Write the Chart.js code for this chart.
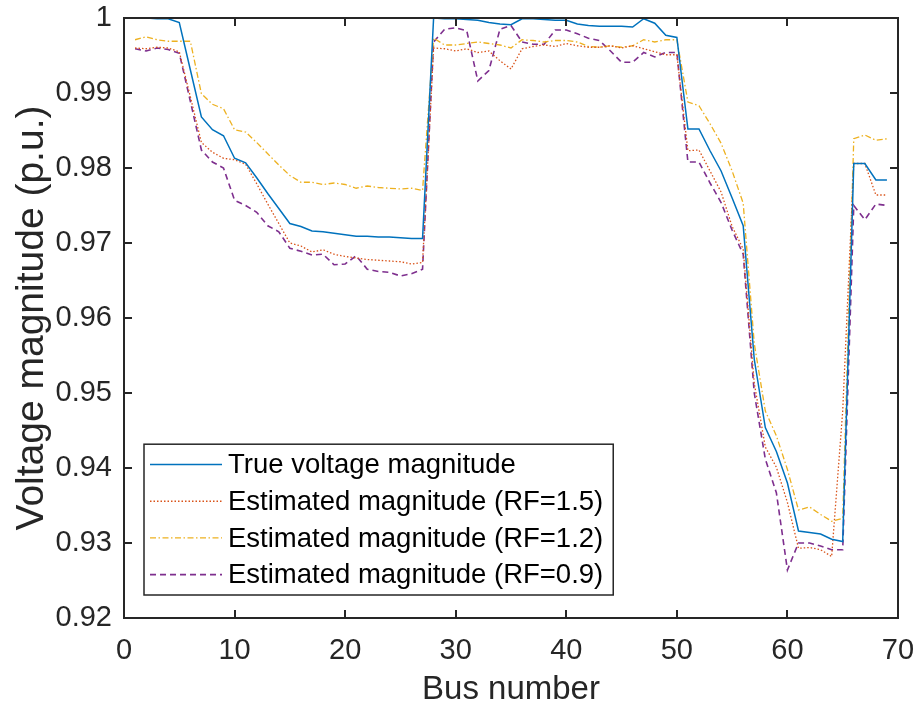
<!DOCTYPE html>
<html>
<head>
<meta charset="utf-8">
<script src="https://cdn.jsdelivr.net/npm/chart.js@4.4.1/dist/chart.umd.min.js"></script>
<style>
  html, body { margin: 0; padding: 0; background: #fff; }
  canvas { display: block; }
</style>
</head>
<body>
<canvas id="voltChart" width="920" height="713"></canvas>
<script>
// bus numbers 1..69
const busNumbers = [
  1, 2, 3, 4, 5, 6, 7, 8, 9, 10, 11, 12, 13, 14, 15, 16, 17, 18, 19, 20,
  21, 22, 23, 24, 25, 26, 27, 28, 29, 30, 31, 32, 33, 34, 35, 36, 37, 38, 39, 40,
  41, 42, 43, 44, 45, 46, 47, 48, 49, 50, 51, 52, 53, 54, 55, 56, 57, 58, 59, 60,
  61, 62, 63, 64, 65, 66, 67, 68, 69
];

const trueVoltage = [
  1.0000, 1.0000, 0.9999, 0.9999, 0.9994, 0.9931, 0.9868, 0.9851, 0.9843, 0.9813,
  0.9807, 0.9787, 0.9766, 0.9746, 0.9726, 0.9722, 0.9716, 0.9715, 0.9713, 0.9711,
  0.9709, 0.9709, 0.9708, 0.9708, 0.9707, 0.9706, 0.9706, 1.0000, 0.9999, 0.9999,
  0.9998, 0.9997, 0.9994, 0.9992, 0.9991, 0.9999, 0.9999, 0.9998, 0.9997, 0.9997,
  0.9992, 0.9990, 0.9989, 0.9989, 0.9989, 0.9988, 0.9999, 0.9993, 0.9977, 0.9974,
  0.9852, 0.9852, 0.9823, 0.9796, 0.9760, 0.9723, 0.9545, 0.9454, 0.9422, 0.9380,
  0.9316, 0.9314, 0.9312, 0.9305, 0.9302, 0.9806, 0.9806, 0.9784, 0.9784
];

const estRF15 = [
  0.9960, 0.9959, 0.9961, 0.9960, 0.9955, 0.9895, 0.9834, 0.9821, 0.9813, 0.9811,
  0.9805, 0.9779, 0.9752, 0.9726, 0.9700, 0.9696, 0.9688, 0.9691, 0.9685, 0.9682,
  0.9680, 0.9678, 0.9677, 0.9676, 0.9675, 0.9672, 0.9674, 0.9960, 0.9959, 0.9956,
  0.9959, 0.9954, 0.9956, 0.9943, 0.9932, 0.9959, 0.9962, 0.9964, 0.9962, 0.9966,
  0.9963, 0.9961, 0.9961, 0.9963, 0.9960, 0.9963, 0.9959, 0.9955, 0.9951, 0.9951,
  0.9823, 0.9824, 0.9796, 0.9768, 0.9722, 0.9692, 0.9513, 0.9428, 0.9401, 0.9354,
  0.9293, 0.9294, 0.9291, 0.9282, 0.9476, 0.9806, 0.9806, 0.9764, 0.9764
];

const estRF12 = [
  0.9971, 0.9975, 0.9971, 0.9969, 0.9969, 0.9969, 0.9899, 0.9885, 0.9879, 0.9851,
  0.9848, 0.9834, 0.9819, 0.9804, 0.9790, 0.9781, 0.9781, 0.9778, 0.9780, 0.9778,
  0.9773, 0.9776, 0.9774, 0.9773, 0.9772, 0.9773, 0.9770, 0.9973, 0.9964, 0.9964,
  0.9966, 0.9968, 0.9966, 0.9964, 0.9960, 0.9971, 0.9970, 0.9968, 0.9970, 0.9970,
  0.9968, 0.9962, 0.9961, 0.9963, 0.9961, 0.9963, 0.9971, 0.9968, 0.9971, 0.9971,
  0.9888, 0.9883, 0.9859, 0.9833, 0.9796, 0.9753, 0.9566, 0.9476, 0.9443, 0.9398,
  0.9344, 0.9348, 0.9338, 0.9329, 0.9333, 0.9839, 0.9844, 0.9837, 0.9839
];

const estRF09 = [
  0.9959, 0.9956, 0.9960, 0.9958, 0.9953, 0.9889, 0.9824, 0.9808, 0.9800, 0.9757,
  0.9750, 0.9741, 0.9723, 0.9715, 0.9693, 0.9689, 0.9684, 0.9685, 0.9671, 0.9672,
  0.9683, 0.9665, 0.9662, 0.9661, 0.9656, 0.9659, 0.9665, 0.9968, 0.9985, 0.9987,
  0.9983, 0.9916, 0.9930, 0.9985, 0.9990, 0.9968, 0.9965, 0.9965, 0.9984, 0.9984,
  0.9979, 0.9973, 0.9970, 0.9956, 0.9941, 0.9941, 0.9954, 0.9948, 0.9954, 0.9954,
  0.9808, 0.9808, 0.9780, 0.9754, 0.9717, 0.9685, 0.9500, 0.9412, 0.9367, 0.9264,
  0.9300, 0.9300, 0.9296, 0.9291, 0.9291, 0.9750, 0.9731, 0.9752, 0.9750
];

const seriesLabels = [
  'True voltage magnitude',
  'Estimated magnitude (RF=1.5)',
  'Estimated magnitude (RF=1.2)',
  'Estimated magnitude (RF=0.9)'
];

const xTicks = [0, 10, 20, 30, 40, 50, 60, 70];
const yTicks = [0.92, 0.93, 0.94, 0.95, 0.96, 0.97, 0.98, 0.99, 1];

const AXIS_COLOR = '#262626';
const FONT = 'Liberation Sans, Arial, Helvetica, sans-serif';

function toPoints(values) {
  return values.map((v, i) => ({ x: busNumbers[i], y: v }));
}

// matlab-ish box with inward ticks on all four sides + legend in the lower left
const boxPlugin = {
  id: 'matlabBox',
  afterDraw(chart) {
    const ctx = chart.ctx;
    const area = chart.chartArea;
    const xs = chart.scales.x;
    const ys = chart.scales.y;
    const tickLen = 8;

    ctx.save();
    ctx.strokeStyle = AXIS_COLOR;
    ctx.lineWidth = 2;
    ctx.strokeRect(area.left, area.top, area.right - area.left, area.bottom - area.top);

    ctx.beginPath();
    xTicks.forEach(t => {
      const px = Math.round(xs.getPixelForValue(t));
      ctx.moveTo(px, area.bottom);
      ctx.lineTo(px, area.bottom - tickLen);
      ctx.moveTo(px, area.top);
      ctx.lineTo(px, area.top + tickLen);
    });
    yTicks.forEach(t => {
      const py = Math.round(ys.getPixelForValue(t));
      ctx.moveTo(area.left, py);
      ctx.lineTo(area.left + tickLen, py);
      ctx.moveTo(area.right, py);
      ctx.lineTo(area.right - tickLen, py);
    });
    ctx.stroke();

    // legend
    const datasets = chart.data.datasets;
    ctx.font = '27.5px ' + FONT;
    const maxText = Math.max(...datasets.map(d => ctx.measureText(d.label).width));
    const boxLeft = area.left + 20;
    const boxBottom = area.bottom - 23;
    const rowH = 36.7;
    const boxH = rowH * datasets.length + 4;
    const boxTop = boxBottom - boxH;
    const sampleX0 = boxLeft + 6;
    const sampleX1 = boxLeft + 78;
    const textX = boxLeft + 84;
    const boxW = textX - boxLeft + maxText + 10;

    ctx.fillStyle = '#ffffff';
    ctx.fillRect(boxLeft, boxTop, boxW, boxH);
    ctx.lineWidth = 1.5;
    ctx.strokeStyle = AXIS_COLOR;
    ctx.strokeRect(boxLeft, boxTop, boxW, boxH);

    ctx.textBaseline = 'middle';
    ctx.textAlign = 'left';
    datasets.forEach((d, i) => {
      const cy = boxTop + 2 + rowH * (i + 0.5);
      ctx.beginPath();
      ctx.setLineDash(d.borderDash || []);
      ctx.strokeStyle = d.borderColor;
      ctx.lineWidth = d.borderWidth;
      ctx.moveTo(sampleX0, cy);
      ctx.lineTo(sampleX1, cy);
      ctx.stroke();
      ctx.setLineDash([]);
      ctx.fillStyle = '#000000';
      ctx.fillText(d.label, textX, cy + 1);
    });
    ctx.restore();
  }
};

const ctx = document.getElementById('voltChart').getContext('2d');
const chart = new Chart(ctx, {
  type: 'line',
  data: {
    datasets: [
      {
        label: seriesLabels[0],
        data: toPoints(trueVoltage),
        borderColor: '#0072BD',
        borderWidth: 1.5,
        borderDash: []
      },
      {
        label: seriesLabels[1],
        data: toPoints(estRF15),
        borderColor: '#D95319',
        borderWidth: 1.3,
        borderDash: [1.5, 2]
      },
      {
        label: seriesLabels[2],
        data: toPoints(estRF12),
        borderColor: '#EDB120',
        borderWidth: 1.3,
        borderDash: [6, 2.5, 1.5, 2.5]
      },
      {
        label: seriesLabels[3],
        data: toPoints(estRF09),
        borderColor: '#7E2F8E',
        borderWidth: 1.6,
        borderDash: [6, 4]
      }
    ]
  },
  options: {
    responsive: false,
    maintainAspectRatio: false,
    devicePixelRatio: 1,
    animation: false,
    elements: {
      point: { radius: 0, hoverRadius: 0 },
      line: { tension: 0, fill: false }
    },
    layout: { padding: { top: 18, right: 22, left: 0, bottom: 0 } },
    plugins: {
      legend: { display: false },
      tooltip: { enabled: false }
    },
    scales: {
      x: {
        type: 'linear',
        min: 0,
        max: 70,
        afterBuildTicks: scale => { scale.ticks = xTicks.map(v => ({ value: v })); },
        afterFit: scale => {
          scale.height = 95;
          scale.paddingLeft = 0;
          scale.paddingRight = 0;
        },
        grid: { display: false, drawTicks: false },
        border: { display: false },
        ticks: {
          padding: 16,
          color: AXIS_COLOR,
          font: { family: FONT, size: 29 },
          maxRotation: 0,
          callback: v => String(v)
        },
        title: {
          display: true,
          text: 'Bus number',
          color: AXIS_COLOR,
          font: { family: FONT, size: 33 },
          padding: { top: 0, bottom: 3 }
        }
      },
      y: {
        type: 'linear',
        min: 0.92,
        max: 1,
        afterBuildTicks: scale => { scale.ticks = yTicks.map(v => ({ value: v })); },
        afterFit: scale => {
          scale.width = 124;
          scale.paddingTop = 0;
          scale.paddingBottom = 0;
        },
        grid: { display: false, drawTicks: false },
        border: { display: false },
        ticks: {
          padding: 12,
          color: AXIS_COLOR,
          font: { family: FONT, size: 29 },
          callback: v => String(Number(v.toFixed(2)))
        },
        title: {
          display: true,
          text: 'Voltage magnitude (p.u.)',
          color: AXIS_COLOR,
          font: { family: FONT, size: 39 },
          padding: { top: 9, bottom: 0 }
        }
      }
    }
  },
  plugins: [boxPlugin]
});
</script>
</body>
</html>
